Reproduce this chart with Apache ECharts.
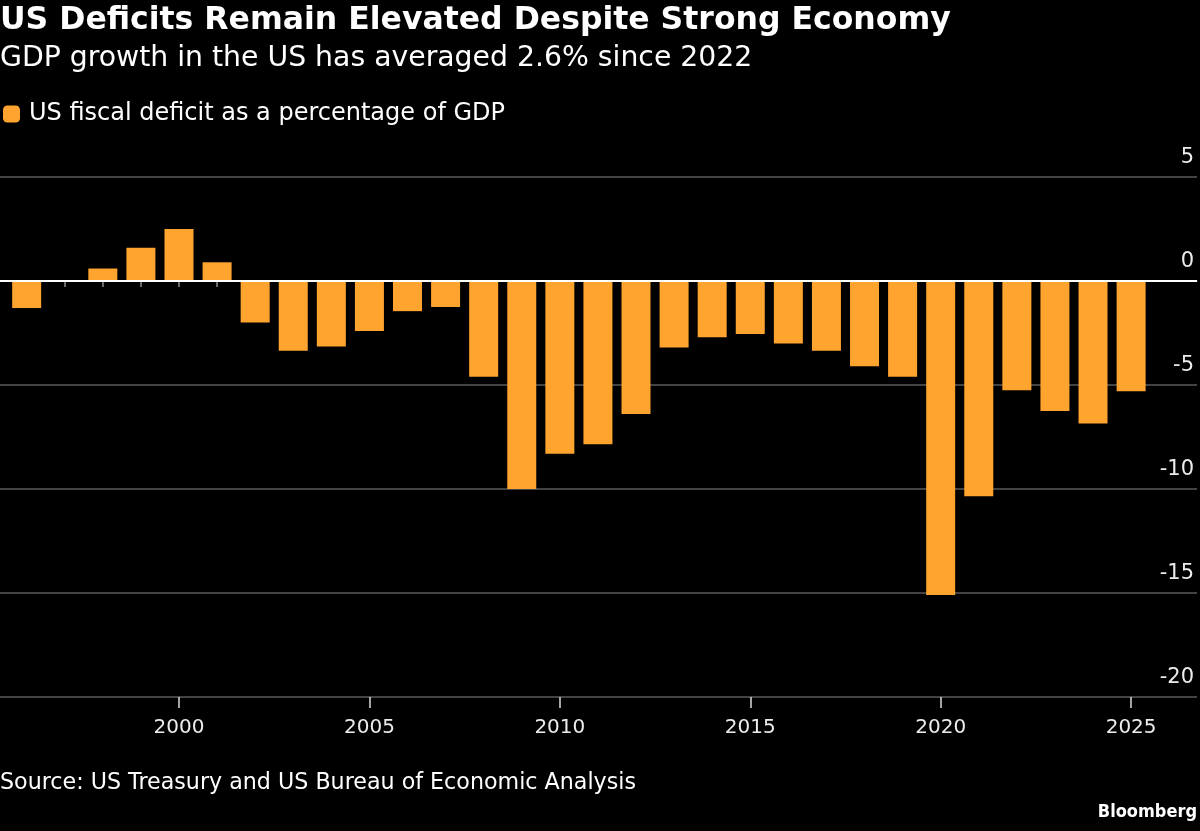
<!DOCTYPE html>
<html>
<head>
<meta charset="utf-8">
<script src="https://cdn.jsdelivr.net/npm/echarts@6/dist/echarts.min.js"></script>
<style>
  html, body { margin: 0; padding: 0; background: #000; }
  #chart { width: 1200px; height: 831px; }
</style>
</head>
<body>
<div id="chart"></div>
<script>
// fiscal years shown on the chart
const years = [
  1996, 1997, 1998, 1999, 2000, 2001, 2002, 2003, 2004, 2005,
  2006, 2007, 2008, 2009, 2010, 2011, 2012, 2013, 2014, 2015,
  2016, 2017, 2018, 2019, 2020, 2021, 2022, 2023, 2024, 2025
];

// US fiscal deficit as % of GDP
const deficit = [
  -1.3, 0, 0.6, 1.6, 2.5, 0.9, -2.0, -3.35, -3.15, -2.4,
  -1.45, -1.25, -4.6, -10.0, -8.3, -7.85, -6.4, -3.2, -2.7, -2.55,
  -3.0, -3.35, -4.1, -4.6, -15.1, -10.35, -5.25, -6.25, -6.85, -5.3
];

const labelYears = [2000, 2005, 2010, 2015, 2020, 2025];
const yTicks = { min: -20, max: 5, interval: 5 };

const FONT = '"DejaVu Sans", sans-serif';
const FONT_NARROW = '"DejaVu Sans Condensed", "DejaVu Sans", sans-serif';
const ORANGE = '#ffa42e';
const GRID_GRAY = '#5a5a5a';

const chart = echarts.init(document.getElementById('chart'));

const option = {
  backgroundColor: '#000',
  animation: false,
  textStyle: { fontFamily: FONT },
  title: [
    {
      text: 'US Deficits Remain Elevated Despite Strong Economy',
      left: 0, top: 5, padding: 0,
      textStyle: { color: '#fff', fontSize: 31.5, fontWeight: 'bold', fontFamily: FONT }
    },
    {
      text: 'GDP growth in the US has averaged 2.6% since 2022',
      left: 0, top: 45, padding: 0,
      textStyle: { color: '#fff', fontSize: 28.3, fontWeight: 'normal', fontFamily: FONT }
    },
    {
      text: 'Source: US Treasury and US Bureau of Economic Analysis',
      left: 0, top: 772, padding: 0,
      textStyle: { color: '#fff', fontSize: 22.2, fontWeight: 'normal', fontFamily: FONT }
    },
    {
      text: 'Bloomberg',
      right: 3, top: 803, padding: 0,
      textStyle: { color: '#fff', fontSize: 18, fontWeight: 'bold', fontFamily: FONT_NARROW }
    }
  ],
  legend: {
    left: 3, top: 102, padding: 0,
    icon: 'roundRect',
    itemWidth: 17, itemHeight: 17, itemGap: 10,
    textStyle: { color: '#fff', fontSize: 24, fontFamily: FONT, padding: [0, 0, 0, 4] },
    data: ['US fiscal deficit as a percentage of GDP']
  },
  grid: { left: 0, right: 3, top: 177, bottom: 134, containLabel: false },
  xAxis: [
    {
      type: 'value',
      min: 1995.3, max: 2026.73,
      axisLine: { show: true, lineStyle: { color: GRID_GRAY, width: 1.5 } },
      axisTick: { show: true, customValues: years, length: 6, lineStyle: { color: '#8a8a8a', width: 1.5 } },
      axisLabel: { show: false },
      splitLine: { show: false }
    },
    {
      type: 'value',
      position: 'bottom',
      min: 1995.3, max: 2026.73,
      axisLine: { show: false },
      axisTick: { show: true, customValues: labelYears, length: 11, lineStyle: { color: '#dcdcdc', width: 1.5 } },
      axisLabel: {
        show: true, customValues: labelYears, margin: 21,
        color: '#ececec', fontSize: 20, fontFamily: FONT,
        formatter: v => String(v)
      },
      splitLine: { show: false }
    }
  ],
  yAxis: {
    type: 'value',
    position: 'right',
    min: yTicks.min, max: yTicks.max, interval: yTicks.interval,
    axisLine: { show: false },
    axisTick: { show: false },
    axisLabel: {
      inside: true, margin: 3,
      verticalAlign: 'bottom', padding: [0, 0, 9, 0],
      color: '#ececec', fontSize: 21, fontFamily: FONT,
      showMinLabel: true, showMaxLabel: true
    },
    splitLine: { show: true, lineStyle: { color: GRID_GRAY, width: 1.5 } }
  },
  series: [
    {
      name: 'US fiscal deficit as a percentage of GDP',
      type: 'bar',
      xAxisIndex: 0,
      barWidth: 29,
      itemStyle: { color: ORANGE },
      data: years.map((y, i) => [y, deficit[i]]),
      markLine: {
        silent: true,
        symbol: 'none',
        label: { show: false },
        lineStyle: { color: '#fff', width: 2, type: 'solid' },
        data: [{ yAxis: 0 }]
      }
    }
  ]
};

chart.setOption(option);
</script>
</body>
</html>
